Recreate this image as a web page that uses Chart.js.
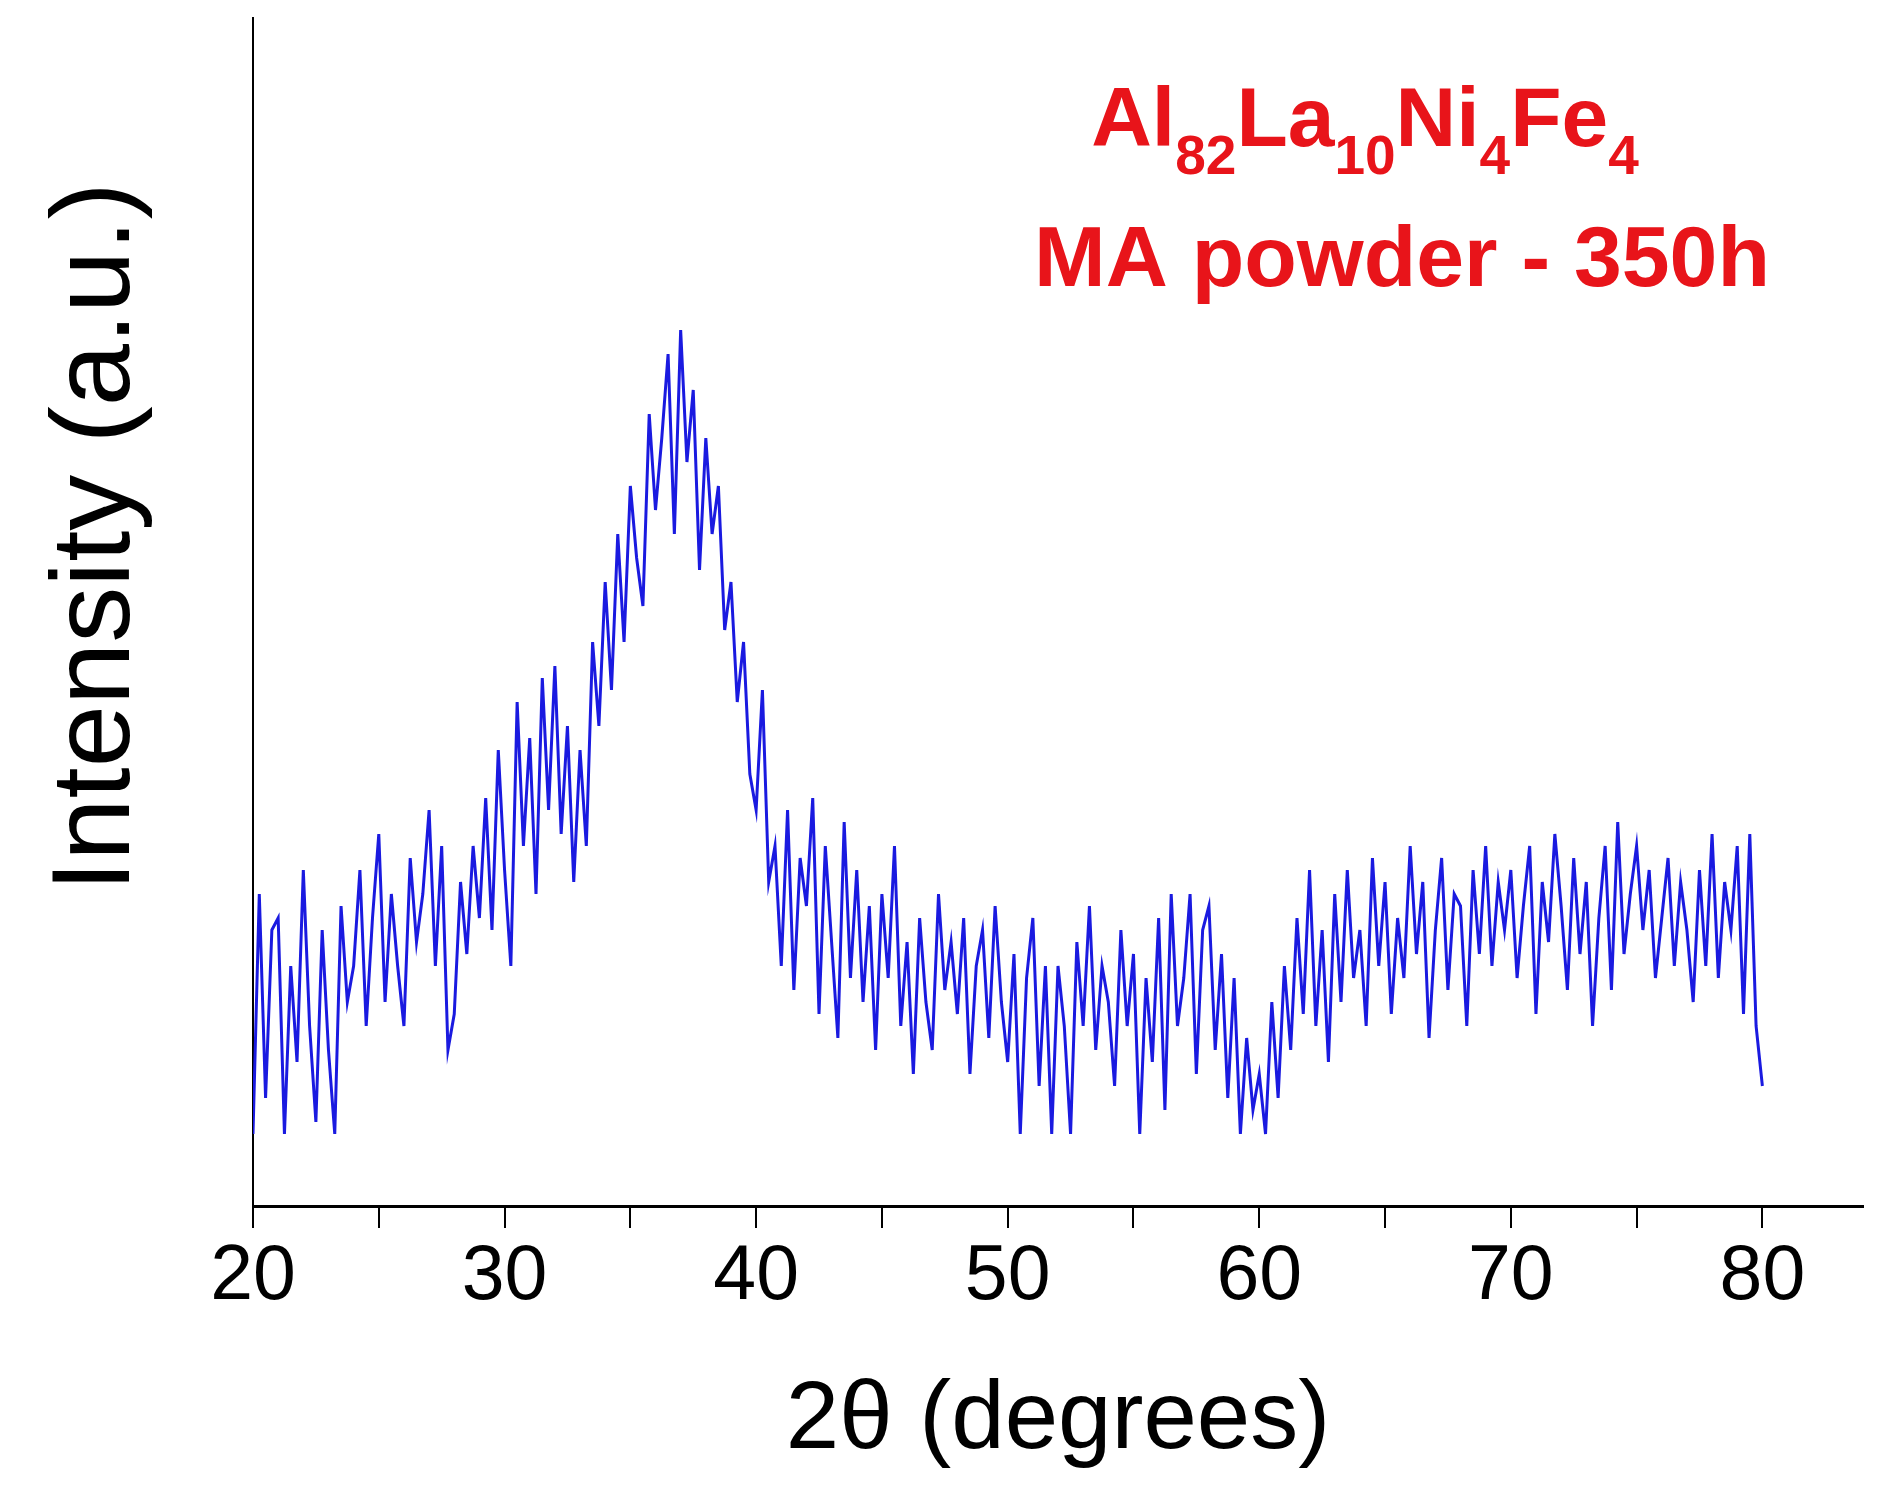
<!DOCTYPE html>
<html><head><meta charset="utf-8">
<script src="https://cdn.jsdelivr.net/npm/chart.js@4.4.0/dist/chart.umd.min.js"></script>
<style>html,body{margin:0;padding:0;background:#fff}canvas{display:block}</style>
</head><body>
<canvas id="c" width="1882" height="1490"></canvas>
<script>
const xStart = 20, xStep = 0.25;
const intensity = [
60,260,90,230, 240,60,200,120, 280,150,70,230, 130,60,250,170, 200,280,150,240,
310,170,260,200, 150,290,220,260, 330,200,300,130, 160,270,210,300, 240,340,230,380,
280,200,420,300, 390,260,440,330, 450,310,400,270, 380,300,470,400, 520,430,560,470,
600,540,500,660, 580,640,710,560, 730,620,680,530, 640,560,600,480, 520,420,470,360,
330,430,270,300, 200,330,180,290, 250,340,160,300, 220,140,320,190, 280,170,250,130,
260,190,300,150, 220,110,240,170, 130,260,180,220, 160,240,110,200, 230,140,250,170,
120,210,60,190, 240,100,200,60, 200,150,60,220, 150,250,130,200, 170,100,230,150,
210,60,190,120, 240,80,260,150, 190,260,110,230, 250,130,210,90, 190,60,140,80,
110,60,170,90, 200,130,240,160, 280,150,230,120, 260,170,280,190, 230,150,290,200,
270,160,240,190, 300,210,270,140, 230,290,180,260, 250,150,280,210, 300,200,270,230,
280,190,250,300, 160,270,220,310, 250,180,290,210, 270,150,240,300, 180,320,210,260,
300,230,280,190, 240,290,200,270, 230,170,280,200, 310,190,270,230, 300,160,310,150,
100
];
const xTickValues = [20,25,30,35,40,45,50,55,60,65,70,75,80];
const xTickLabels = [20,30,40,50,60,70,80];
const pts = intensity.map((v,i)=>({x: xStart + i*xStep, y: v}));

const textPlugin = {
  id:'texts',
  afterDraw(chart){
    const ctx = chart.ctx;
    ctx.save();
    ctx.fillStyle = '#000';
    ctx.textAlign='center'; ctx.textBaseline='middle';
    ctx.font = '96px "Liberation Sans", Arial, sans-serif';
    ctx.fillText('2θ (degrees)', 1058, 1422);
    ctx.font = '112px "Liberation Sans", Arial, sans-serif';
    ctx.translate(98, 537); ctx.rotate(-Math.PI/2);
    ctx.fillText('Intensity (a.u.)', 0, 0);
    ctx.restore();
    ctx.save();
    ctx.fillStyle = '#e8141a';
    ctx.textBaseline = 'alphabetic';
    const big = 'bold 84px "Liberation Sans", Arial, sans-serif';
    const sub = 'bold 55px "Liberation Sans", Arial, sans-serif';
    const segs = [['Al',0],['82',1],['La',0],['10',1],['Ni',0],['4',1],['Fe',0],['4',1]];
    let total = 0;
    segs.forEach(s=>{ctx.font = s[1]?sub:big; total += ctx.measureText(s[0]).width;});
    let x = 1365 - total/2;
    const base = 146;
    segs.forEach(s=>{ctx.font = s[1]?sub:big; ctx.fillText(s[0], x, s[1]?base+28:base); x += ctx.measureText(s[0]).width;});
    ctx.font = 'bold 86px "Liberation Sans", Arial, sans-serif'; ctx.textAlign='center';
    ctx.fillText('MA powder - 350h', 1402, 286);
    ctx.restore();
  }
};

new Chart(document.getElementById('c'), {
  type:'line',
  data:{datasets:[{data:pts, borderColor:'#1a1ae0', borderWidth:3, pointRadius:0, tension:0, fill:false}]},
  options:{
    responsive:false, animation:false, devicePixelRatio:1,
    layout:{padding:{top:18, right:19, left:0, bottom:0}},
    plugins:{legend:{display:false}, tooltip:{enabled:false}},
    scales:{
      x:{type:'linear', min:20, max:84,
        afterFit(s){ s.height = 1490-1206; },
        afterBuildTicks(s){ s.ticks = xTickValues.map(v=>({value:v})); },
        ticks:{autoSkip:false, maxRotation:0, padding:4, color:'#000',
          font:{size:77, family:'"Liberation Sans", Arial, sans-serif'},
          callback:v=> xTickLabels.includes(v) ? String(v) : ''},
        grid:{display:true, drawOnChartArea:false, drawTicks:true, tickLength:22, color:'#000', lineWidth:2},
        border:{display:true, color:'#000', width:3}},
      y:{type:'linear', min:0, max:990,
        afterFit(s){ s.width = 253; },
        ticks:{display:false},
        grid:{display:false},
        border:{display:true, color:'#000', width:2}}
    }
  },
  plugins:[textPlugin]
});
</script>
</body></html>
